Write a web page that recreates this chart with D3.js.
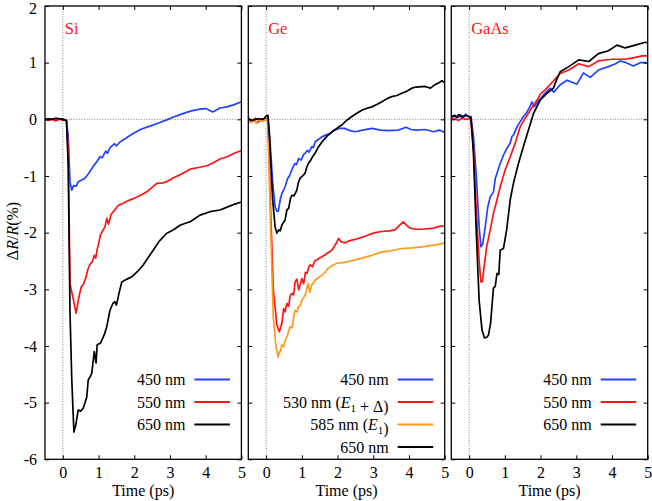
<!DOCTYPE html>
<html>
<head>
<meta charset="utf-8">
<script src="https://cdn.jsdelivr.net/npm/d3@7"></script>
<style>
  body { margin: 0; background: #fff; }
  svg text { font-family: "Liberation Serif", Tinos, Times, "Times New Roman", "DejaVu Serif", FreeSerif, serif; }
</style>
</head>
<body>
<svg id="chart" width="652" height="501"></svg>
<script>
// time in ps, value dR/R in %
const siBlue = [[-0.5,0],[-0.4,-0.01],[-0.3,0.01],[-0.2,-0.02],[-0.1,0.0],[0,0.01],[0.1,-0.02],[0.15,-0.3],[0.2,-1.1],[0.25,-1.25],[0.3,-1.17],[0.38,-1.18],[0.43,-1.1],[0.5,-1.08],[0.6,-1.05],[0.67,-1.0],[0.75,-0.93],[0.85,-0.83],[0.95,-0.75],[1.04,-0.66],[1.1,-0.68],[1.2,-0.56],[1.25,-0.6],[1.32,-0.5],[1.45,-0.43],[1.5,-0.47],[1.6,-0.4],[1.75,-0.34],[1.97,-0.25],[2.2,-0.17],[2.44,-0.12],[2.7,-0.06],[2.91,-0.01],[3.1,0.04],[3.36,0.1],[3.6,0.15],[3.84,0.18],[4.0,0.19],[4.2,0.13],[4.4,0.2],[4.6,0.22],[4.8,0.26],[5,0.31]];
const siRed = [[-0.5,0],[-0.4,-0.02],[-0.3,0.0],[-0.2,-0.03],[-0.1,0.01],[0,-0.02],[0.1,-0.01],[0.15,-0.5],[0.2,-2.9],[0.25,-3.05],[0.3,-3.2],[0.37,-3.42],[0.43,-3.2],[0.48,-3.05],[0.52,-2.95],[0.57,-2.92],[0.65,-2.78],[0.7,-2.65],[0.76,-2.56],[0.82,-2.52],[0.88,-2.4],[0.92,-2.45],[0.96,-2.3],[1.0,-2.2],[1.05,-2.05],[1.12,-1.96],[1.18,-1.9],[1.23,-1.75],[1.28,-1.85],[1.35,-1.68],[1.45,-1.6],[1.55,-1.52],[1.69,-1.48],[1.85,-1.43],[1.97,-1.4],[2.15,-1.35],[2.35,-1.28],[2.5,-1.2],[2.63,-1.13],[2.8,-1.12],[2.91,-1.1],[3.1,-1.03],[3.28,-0.98],[3.45,-0.92],[3.56,-0.88],[3.8,-0.85],[4.03,-0.82],[4.2,-0.77],[4.4,-0.7],[4.6,-0.66],[4.8,-0.6],[5,-0.55]];
const siBlack = [[-0.5,0],[-0.4,0.01],[-0.3,0.0],[-0.2,0.02],[-0.1,0.01],[0,0.0],[0.1,-0.02],[0.15,-0.8],[0.2,-3.4],[0.25,-4.6],[0.31,-5.52],[0.36,-5.4],[0.43,-5.13],[0.5,-5.15],[0.57,-5.1],[0.62,-5.0],[0.67,-4.9],[0.71,-4.6],[0.76,-4.55],[0.81,-4.48],[0.88,-4.1],[0.93,-4.3],[0.96,-3.98],[1.05,-3.95],[1.09,-3.9],[1.16,-3.8],[1.23,-3.66],[1.32,-3.37],[1.4,-3.25],[1.46,-3.22],[1.5,-3.28],[1.58,-3.05],[1.65,-2.87],[1.8,-2.82],[1.93,-2.78],[2.1,-2.68],[2.25,-2.57],[2.4,-2.43],[2.53,-2.31],[2.7,-2.15],[2.91,-2.01],[3.1,-1.95],[3.28,-1.87],[3.45,-1.83],[3.56,-1.81],[3.7,-1.75],[3.84,-1.69],[4.12,-1.63],[4.4,-1.6],[4.6,-1.55],[4.8,-1.5],[5,-1.46]];

const geBlue = [[-0.5,0],[-0.45,-0.05],[-0.35,-0.02],[-0.25,-0.06],[-0.15,-0.01],[-0.05,0],[0.05,0.02],[0.1,-0.3],[0.18,-1.1],[0.25,-1.54],[0.3,-1.62],[0.34,-1.62],[0.4,-1.4],[0.44,-1.31],[0.53,-1.19],[0.6,-1.05],[0.65,-1.0],[0.72,-0.89],[0.8,-0.78],[0.85,-0.8],[0.91,-0.69],[0.98,-0.72],[1.05,-0.62],[1.09,-0.6],[1.15,-0.55],[1.2,-0.58],[1.28,-0.48],[1.32,-0.5],[1.37,-0.4],[1.45,-0.36],[1.56,-0.31],[1.7,-0.27],[1.79,-0.25],[1.9,-0.2],[2.03,-0.16],[2.2,-0.16],[2.35,-0.2],[2.49,-0.22],[2.7,-0.19],[2.96,-0.16],[3.2,-0.19],[3.43,-0.2],[3.7,-0.19],[3.92,-0.14],[4.05,-0.18],[4.2,-0.19],[4.45,-0.18],[4.69,-0.22],[4.85,-0.19],[5,-0.23]];
const geRed = [[-0.5,0.03],[-0.4,-0.04],[-0.3,0.02],[-0.2,-0.03],[-0.1,0.01],[0,0.0],[0.05,-0.05],[0.12,-1.5],[0.2,-3.0],[0.3,-3.63],[0.37,-3.75],[0.44,-3.6],[0.49,-3.34],[0.53,-3.4],[0.58,-3.25],[0.63,-3.3],[0.67,-3.12],[0.72,-3.07],[0.77,-3.1],[0.81,-2.87],[0.86,-2.82],[0.91,-3.01],[0.96,-2.9],[1.0,-2.81],[1.05,-2.9],[1.1,-2.7],[1.14,-2.72],[1.2,-2.6],[1.23,-2.57],[1.3,-2.6],[1.36,-2.5],[1.42,-2.48],[1.55,-2.43],[1.65,-2.39],[1.84,-2.31],[1.95,-2.2],[2.03,-2.1],[2.1,-2.16],[2.21,-2.18],[2.35,-2.14],[2.49,-2.12],[2.7,-2.08],[2.86,-2.04],[3.05,-2.0],[3.24,-1.98],[3.45,-1.97],[3.61,-1.95],[3.72,-1.88],[3.84,-1.81],[3.95,-1.88],[4.03,-1.92],[4.2,-1.94],[4.36,-1.94],[4.55,-1.93],[4.69,-1.92],[4.85,-1.89],[5,-1.88]];
const geOrange = [[-0.5,0.0],[-0.42,-0.06],[-0.35,0.0],[-0.28,-0.07],[-0.2,0.0],[-0.1,-0.04],[0,0.0],[0.05,-0.05],[0.12,-1.8],[0.2,-3.5],[0.28,-4.04],[0.34,-4.2],[0.37,-4.1],[0.4,-4.1],[0.44,-3.98],[0.49,-4.01],[0.53,-3.9],[0.58,-3.84],[0.63,-3.74],[0.67,-3.66],[0.73,-3.68],[0.77,-3.5],[0.81,-3.37],[0.86,-3.4],[0.91,-3.31],[0.96,-3.28],[1.0,-3.19],[1.07,-3.13],[1.12,-3.05],[1.15,-2.95],[1.18,-2.9],[1.22,-3.05],[1.28,-2.92],[1.37,-2.84],[1.45,-2.8],[1.56,-2.75],[1.65,-2.7],[1.74,-2.63],[1.85,-2.58],[1.98,-2.54],[2.15,-2.53],[2.3,-2.51],[2.5,-2.48],[2.68,-2.45],[2.96,-2.40],[3.24,-2.34],[3.5,-2.32],[3.8,-2.28],[4.1,-2.27],[4.36,-2.25],[4.6,-2.23],[4.8,-2.21],[5,-2.18]];
const geBlack = [[-0.5,0.01],[-0.4,-0.02],[-0.3,0.0],[-0.2,0.01],[-0.1,0.0],[-0.05,0.02],[0.0,0.06],[0.05,0.07],[0.1,-0.4],[0.18,-1.4],[0.25,-1.9],[0.3,-2.01],[0.35,-1.95],[0.39,-1.97],[0.45,-1.85],[0.53,-1.78],[0.58,-1.6],[0.63,-1.57],[0.68,-1.4],[0.72,-1.34],[0.78,-1.35],[0.86,-1.25],[0.9,-1.12],[0.95,-1.04],[1.02,-1.0],[1.09,-0.95],[1.13,-0.86],[1.18,-0.78],[1.25,-0.72],[1.3,-0.66],[1.37,-0.6],[1.45,-0.5],[1.56,-0.4],[1.7,-0.3],[1.84,-0.22],[2.0,-0.15],[2.12,-0.1],[2.25,-0.02],[2.4,0.05],[2.55,0.11],[2.68,0.16],[2.8,0.19],[2.96,0.22],[3.1,0.26],[3.24,0.31],[3.4,0.37],[3.52,0.40],[3.66,0.42],[3.8,0.46],[3.95,0.5],[4.08,0.55],[4.2,0.57],[4.45,0.58],[4.6,0.55],[4.7,0.6],[4.85,0.65],[4.92,0.68],[5,0.65]];

const gaasBlue = [[-0.5,0.03],[-0.4,0.06],[-0.3,0.03],[-0.25,0.08],[-0.15,0.04],[-0.1,0.09],[0,0.04],[0.05,0.05],[0.12,-0.3],[0.2,-1.0],[0.28,-1.9],[0.33,-2.25],[0.38,-2.2],[0.45,-1.9],[0.52,-1.55],[0.59,-1.37],[0.68,-1.28],[0.73,-1.05],[0.78,-0.95],[0.83,-0.85],[0.87,-0.78],[0.92,-0.7],[0.96,-0.63],[1.05,-0.52],[1.15,-0.42],[1.2,-0.3],[1.24,-0.28],[1.35,-0.12],[1.43,-0.04],[1.52,0.05],[1.62,0.13],[1.7,0.22],[1.76,0.31],[1.82,0.22],[1.95,0.33],[2.08,0.43],[2.27,0.55],[2.37,0.48],[2.55,0.61],[2.74,0.69],[2.9,0.65],[3.02,0.62],[3.2,0.82],[3.39,0.74],[3.62,0.87],[3.9,0.93],[4.1,0.98],[4.23,1.03],[4.35,1.01],[4.6,0.94],[4.79,1.0],[5,1.0]];
const gaasRed = [[-0.5,0.0],[-0.4,0.01],[-0.3,-0.02],[-0.2,0.02],[-0.1,0.0],[0,0.01],[0.05,-0.02],[0.12,-0.5],[0.2,-1.6],[0.28,-2.5],[0.33,-2.87],[0.37,-2.87],[0.42,-2.6],[0.49,-2.25],[0.59,-1.95],[0.68,-1.66],[0.78,-1.42],[0.87,-1.19],[1.01,-0.89],[1.15,-0.66],[1.29,-0.42],[1.43,-0.13],[1.57,0.02],[1.71,0.16],[1.9,0.34],[2.0,0.45],[2.13,0.52],[2.32,0.65],[2.55,0.81],[2.79,0.87],[3.07,0.98],[3.35,0.93],[3.62,1.03],[4.0,1.06],[4.35,1.06],[4.56,1.08],[4.84,1.12],[5,1.12]];
const gaasBlack = [[-0.5,0.05],[-0.4,0.07],[-0.35,0.03],[-0.3,0.08],[-0.2,0.04],[-0.1,0.07],[0,0.05],[0.05,0.03],[0.12,-0.6],[0.2,-2.0],[0.28,-3.2],[0.36,-3.72],[0.43,-3.86],[0.5,-3.84],[0.54,-3.81],[0.6,-3.6],[0.63,-3.37],[0.68,-2.98],[0.73,-2.95],[0.78,-2.72],[0.83,-2.74],[0.87,-2.31],[0.96,-2.28],[1.05,-1.95],[1.15,-1.42],[1.24,-1.13],[1.38,-0.78],[1.52,-0.48],[1.66,-0.19],[1.8,0.1],[1.99,0.34],[2.18,0.46],[2.36,0.55],[2.45,0.7],[2.55,0.84],[2.79,0.93],[3.07,1.05],[3.35,1.02],[3.62,1.16],[3.9,1.21],[4.14,1.31],[4.37,1.26],[4.65,1.31],[4.93,1.36],[5,1.35]];

const panelTitles = ["Si", "Ge", "GaAs"];
const siLabels = ["450 nm", "550 nm", "650 nm"];
const geLabels = ["450 nm", "530 nm (E1 + Δ)", "585 nm (E1)", "650 nm"];
const gaasLabels = ["450 nm", "550 nm", "650 nm"];
const xTicks = [0, 1, 2, 3, 4, 5];
const yTicks = [2, 1, 0, -1, -2, -3, -4, -5, -6];

const BLUE = "#2142ff", RED = "#ff1414", ORANGE = "#ff9a1a", BLACK = "#000";

const panels = [
  { title: panelTitles[0], labels: siLabels, series: [siBlue, siRed, siBlack], colors: [BLUE, RED, BLACK] },
  { title: panelTitles[1], labels: geLabels, series: [geBlue, geRed, geOrange, geBlack], colors: [BLUE, RED, ORANGE, BLACK] },
  { title: panelTitles[2], labels: gaasLabels, series: [gaasBlue, gaasRed, gaasBlack], colors: [BLUE, RED, BLACK] }
];

const svg = d3.select("#chart");
const plotTop = 6, plotBottom = 459.3, pw = 196.4;
const lefts = [45, 248.3, 451.3];
const FS = 16;

const y = d3.scaleLinear().domain([-6, 2]).range([plotBottom, plotTop]);

// text with "E1" rendered as italic E and subscript 1
function addLabel(sel, str) {
  const parts = str.split("E1");
  parts.forEach((p, i) => {
    if (i > 0) {
      sel.append("tspan").attr("font-style", "italic").text("E");
      sel.append("tspan").attr("font-size", 11).attr("dy", 4).text("1");
      sel.append("tspan").attr("dy", -4).text("");
    }
    if (p) sel.append("tspan").text(p);
  });
}

panels.forEach((p, i) => {
  const x0 = lefts[i];
  const x = d3.scaleLinear().domain([-0.5, 5]).range([x0, x0 + pw]);
  const g = svg.append("g");

  g.append("clipPath").attr("id", "clip" + i)
    .append("rect").attr("x", x0).attr("y", plotTop).attr("width", pw).attr("height", plotBottom - plotTop);

  // dotted zero lines
  g.append("line").attr("x1", x0).attr("x2", x0 + pw).attr("y1", y(0)).attr("y2", y(0))
    .attr("stroke", "#777").attr("stroke-width", 0.9).attr("stroke-dasharray", "1,1.6");
  g.append("line").attr("x1", x(0)).attr("x2", x(0)).attr("y1", plotTop).attr("y2", plotBottom)
    .attr("stroke", "#777").attr("stroke-width", 0.9).attr("stroke-dasharray", "1,1.6");

  const line = d3.line().x(d => x(d[0])).y(d => y(d[1]));
  p.series.forEach((s, j) => {
    g.append("path").datum(s)
      .attr("clip-path", `url(#clip${i})`)
      .attr("d", line)
      .attr("fill", "none")
      .attr("stroke", p.colors[j])
      .attr("stroke-width", 1.7)
      .attr("stroke-linejoin", "round");
  });

  // axes, ticks pointing inward on all sides
  const bx = g.append("g").attr("transform", `translate(0,${plotBottom})`)
    .call(d3.axisBottom(x).tickValues(xTicks).tickSizeInner(-4).tickSizeOuter(0).tickPadding(7).tickFormat(d => String(d)));
  const tx = g.append("g").attr("transform", `translate(0,${plotTop})`)
    .call(d3.axisTop(x).tickValues(xTicks).tickSizeInner(-4).tickSizeOuter(0).tickFormat(""));
  const ly = g.append("g").attr("transform", `translate(${x0},0)`)
    .call(d3.axisLeft(y).tickValues(yTicks).tickSizeInner(-4).tickSizeOuter(0).tickPadding(8)
      .tickFormat(i === 0 ? (d => String(d)) : ""));
  const ry = g.append("g").attr("transform", `translate(${x0 + pw},0)`)
    .call(d3.axisRight(y).tickValues(yTicks).tickSizeInner(-4).tickSizeOuter(0).tickFormat(""));
  [bx, tx, ly, ry].forEach(a => {
    a.attr("font-family", null).attr("font-size", null);
    a.select(".domain").remove();
    a.selectAll("line").attr("stroke", "#000").attr("stroke-width", 1);
    a.selectAll("text").attr("font-size", FS).attr("fill", "#000");
  });
  ly.selectAll("text").filter(d => d === 2).attr("dy", "0.45em");

  // frame
  g.append("rect").attr("x", x0).attr("y", plotTop).attr("width", pw).attr("height", plotBottom - plotTop)
    .attr("fill", "none").attr("stroke", "#000").attr("stroke-width", 1.3);

  // panel title
  g.append("text").attr("x", x(0) + 2).attr("y", 33.5)
    .attr("fill", RED).attr("font-size", 16.5).text(p.title);

  // x label
  g.append("text").attr("x", x0 + pw / 2).attr("y", 496)
    .attr("text-anchor", "middle").attr("font-size", FS).text("Time (ps)");

  // legend
  const right = x0 + pw;
  p.labels.forEach((lab, j) => {
    const ly0 = 379.5 + j * 22.5;
    const t = g.append("text").attr("x", right - 56).attr("y", ly0 + 5.5)
      .attr("text-anchor", "end").attr("font-size", FS);
    addLabel(t, lab);
    g.append("line").attr("x1", right - 47).attr("x2", right - 11.5)
      .attr("y1", ly0).attr("y2", ly0)
      .attr("stroke", p.colors[j]).attr("stroke-width", 1.8);
  });
});

// y axis label
const yl = svg.append("text").attr("transform", "translate(18,231) rotate(-90)")
  .attr("text-anchor", "middle").attr("font-size", FS);
yl.append("tspan").text("Δ");
yl.append("tspan").attr("font-style", "italic").text("R");
yl.append("tspan").text("/");
yl.append("tspan").attr("font-style", "italic").text("R");
yl.append("tspan").text("(%)");
</script>
</body>
</html>
